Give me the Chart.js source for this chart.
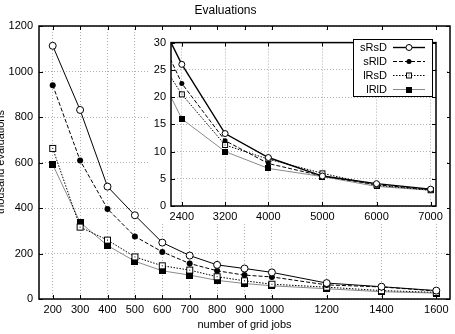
<!DOCTYPE html>
<html><head><meta charset="utf-8">
<script src="https://cdn.jsdelivr.net/npm/chart.js@4/dist/chart.umd.min.js"></script>
<style>
html,body{margin:0;padding:0;background:#fff;}
#wrap{position:relative;width:455px;height:334px;overflow:hidden;}
#main{position:absolute;left:0;top:0;}
#inset{position:absolute;left:150px;top:31px;background:#fff;}
</style></head><body>
<div id="wrap"><canvas id="main" width="455" height="334"></canvas><canvas id="inset" width="297" height="192"></canvas></div>
<script>
// ---- data ----
const seriesNames = ['sRsD', 'sRlD', 'lRsD', 'lRlD'];
const gridJobs = [200, 300, 400, 500, 600, 700, 800, 900, 1000, 1200, 1400, 1600];
const sRsD = [1113, 831, 494, 368, 248, 191, 150, 134, 117, 70, 54, 37];
const sRlD = [940, 609, 396, 275, 207, 156, 124, 105, 97, 62, 53, 35];
const lRsD = [662, 316, 259, 185, 146, 127, 98, 80, 65, 52, 37, 29];
const lRlD = [591, 337, 235, 166, 124, 105, 82, 68, 58, 45, 32, 26];
const xTickLabels = [200, 300, 400, 500, 600, 700, 800, 900, 1000, 1200, 1400, 1600];
const yTickLabels = [0, 200, 400, 600, 800, 1000, 1200];

const insetJobs = [2000, 2400, 3200, 4000, 5000, 6000, 7000];
const insetSRsD = [34, 26.0, 13.3, 8.9, 5.5, 4.1, 3.1];
const insetSRlD = [31, 22.5, 12.0, 7.8, 5.5, 3.9, 3.0];
const insetLRsD = [26.7, 20.5, 11.2, 8.6, 6.0, 3.8, 2.9];
const insetLRlD = [24, 16.0, 10.0, 6.9, 5.4, 3.6, 2.9];
const insetXTicks = [2400, 3200, 4000, 5000, 6000, 7000];
const insetYTicks = [0, 5, 10, 15, 20, 25, 30];

// ---- markers ----
function mk(w, draw){const c=document.createElement('canvas');c.width=w;c.height=w;draw(c.getContext('2d'));return c;}
const openSq = mk(9, g=>{g.fillStyle='#fff';g.fillRect(1,1,7,7);g.strokeStyle='#000';g.lineWidth=1;g.strokeRect(1.5,1.5,6,6);g.fillStyle='#000';g.fillRect(4,4,1,1);});
const openSqS = mk(8, g=>{g.fillStyle='#fff';g.fillRect(1,1,6,6);g.strokeStyle='#000';g.lineWidth=1;g.strokeRect(1.5,1.5,5,5);g.fillStyle='#000';g.fillRect(3.5,3.5,1,1);});
const fillSq = mk(7, g=>{g.fillStyle='#000';g.fillRect(0,0,7,7);});
const fillSqS = mk(6, g=>{g.fillStyle='#000';g.fillRect(0,0,6,6);});

const FONT = '"Liberation Sans", Arial, Helvetica, sans-serif';
const pts = (xs, ys) => xs.map((x, i) => ({x: x, y: ys[i]}));
const plain = v => String(v);

function styles(small){
  return [
    {borderColor:'#000', borderWidth: small?1.4:1, borderDash:[], pointStyle:'circle', pointRadius: small?3:3.5, pointBackgroundColor:'#fff', pointBorderColor:'#000', pointBorderWidth:1},
    {borderColor:'#000', borderWidth:1, borderDash:[4,2], pointStyle:'circle', pointRadius: small?2.5:3, pointBackgroundColor:'#000', pointBorderColor:'#000', pointBorderWidth:0},
    {borderColor:'#000', borderWidth:1, borderDash:[1.5,1.5], pointStyle: small?openSqS:openSq, pointRadius:4},
    {borderColor:'#8a8a8a', borderWidth:1, borderDash:[], pointStyle: small?fillSqS:fillSq, pointRadius:4}
  ];
}

function framePlugin(xTicks, yTicks){
  return {
    id:'frame',
    afterDraw(chart){
      const {ctx, chartArea:a, scales} = chart;
      ctx.save();
      ctx.strokeStyle='#000'; ctx.lineWidth=1; ctx.setLineDash([]);
      const L=4;
      ctx.beginPath();
      xTicks.forEach(v=>{const p=Math.round(scales.x.getPixelForValue(v))+0.5; ctx.moveTo(p,a.bottom); ctx.lineTo(p,a.bottom-L); ctx.moveTo(p,a.top); ctx.lineTo(p,a.top+L);});
      yTicks.forEach(v=>{const p=Math.round(scales.y.getPixelForValue(v))+0.5; ctx.moveTo(a.left,p); ctx.lineTo(a.left+L,p); ctx.moveTo(a.right,p); ctx.lineTo(a.right-L,p);});
      ctx.stroke();
      ctx.lineWidth=1.5;
      ctx.strokeRect(a.left, a.top, a.right-a.left, a.bottom-a.top);
      ctx.restore();
    }
  };
}

const yTitlePlugin = {
  id:'ytitle',
  afterDraw(chart){
    const ctx=chart.ctx; ctx.save();
    ctx.translate(4, 162); ctx.rotate(-Math.PI/2);
    ctx.font='11px '+FONT; ctx.fillStyle='#000'; ctx.textAlign='center'; ctx.textBaseline='alphabetic';
    ctx.fillText('thousand evaluations', 0, 0);
    ctx.restore();
  }
};

const gridOpts = {color:'#b0b0b0', lineWidth:1, drawTicks:false};
const borderOpts = {display:false, dash:[1,2]};

const mainSeries = [sRsD, sRlD, lRsD, lRlD];
const ms = styles(false);
new Chart(document.getElementById('main'), {
  type:'line',
  data:{datasets: mainSeries.map((s,i)=>Object.assign({label:seriesNames[i], data:pts(gridJobs,s), fill:false, tension:0}, ms[i]))},
  options:{
    responsive:false, animation:false, devicePixelRatio:1,
    layout:{padding:{left:0,right:4,top:0,bottom:0}},
    plugins:{
      legend:{display:false}, tooltip:{enabled:false},
      title:{display:true, text:'Evaluations', color:'#000', font:{family:FONT, size:12, weight:'normal'}, padding:{top:3, bottom:8.6}}
    },
    scales:{
      x:{type:'linear', min:150, max:1650,
         afterBuildTicks: s=>{ s.ticks = xTickLabels.map(v=>({value:v})); },
         afterFit: s=>{ s.height = 35; },
         ticks:{color:'#000', font:{family:FONT,size:11}, padding:4, maxRotation:0, autoSkip:false, callback:plain},
         grid:gridOpts, border:borderOpts,
         title:{display:true, text:'number of grid jobs', color:'#000', font:{family:FONT,size:11}, padding:{top:0,bottom:2}}},
      y:{type:'linear', min:0, max:1200,
         afterBuildTicks: s=>{ s.ticks = yTickLabels.map(v=>({value:v})); },
         afterFit: s=>{ s.width = 39; },
         ticks:{color:'#000', font:{family:FONT,size:11}, padding:6, callback:plain},
         grid:gridOpts, border:borderOpts}
    }
  },
  plugins:[framePlugin(xTickLabels, yTickLabels), yTitlePlugin]
});

const insetSeries = [insetSRsD, insetSRlD, insetLRsD, insetLRlD];
const is = styles(true);
const legendPlugin = {
  id:'insetLegend',
  afterDraw(chart){
    const ctx=chart.ctx; ctx.save();
    const bx=203.5, by=8.5, bw=79, bh=57;
    ctx.fillStyle='#fff'; ctx.fillRect(bx,by,bw,bh);
    ctx.strokeStyle='#000'; ctx.lineWidth=1; ctx.setLineDash([]); ctx.strokeRect(bx,by,bw,bh);
    ctx.font='11px '+FONT; ctx.textAlign='right'; ctx.textBaseline='middle';
    seriesNames.forEach((n,i)=>{
      const y=16.5+14*i, st=is[i];
      ctx.fillStyle='#000'; ctx.fillText(n, 237, y);
      ctx.save(); ctx.strokeStyle=st.borderColor; ctx.lineWidth=st.borderWidth; ctx.setLineDash(st.borderDash);
      ctx.beginPath(); ctx.moveTo(243,y); ctx.lineTo(275,y); ctx.stroke(); ctx.restore();
      const cx=259;
      if (typeof st.pointStyle === 'string'){
        ctx.beginPath(); ctx.arc(cx,y,st.pointRadius,0,Math.PI*2);
        ctx.fillStyle=st.pointBackgroundColor; ctx.fill();
        if (st.pointBorderWidth){ctx.strokeStyle='#000'; ctx.lineWidth=1; ctx.stroke();}
      } else {
        const im=st.pointStyle; ctx.drawImage(im, cx-im.width/2, y-im.height/2);
      }
    });
    ctx.restore();
  }
};
new Chart(document.getElementById('inset'), {
  type:'line',
  data:{datasets: insetSeries.map((s,i)=>Object.assign({label:seriesNames[i], data:pts(insetJobs,s), fill:false, tension:0}, is[i]))},
  options:{
    responsive:false, animation:false, devicePixelRatio:1,
    layout:{padding:{left:0,right:8,top:6,bottom:0}},
    plugins:{legend:{display:false}, tooltip:{enabled:false}, title:{display:false}},
    scales:{
      x:{type:'linear', min:2200, max:7100,
         afterBuildTicks: s=>{ s.ticks = insetXTicks.map(v=>({value:v})); },
         afterFit: s=>{ s.height = 17; },
         ticks:{color:'#000', font:{family:FONT,size:11}, padding:4, maxRotation:0, autoSkip:false, callback:plain},
         grid:gridOpts, border:borderOpts},
      y:{type:'linear', min:0, max:30,
         afterBuildTicks: s=>{ s.ticks = insetYTicks.map(v=>({value:v})); },
         afterFit: s=>{ s.width = 21; },
         ticks:{color:'#000', font:{family:FONT,size:11}, padding:5, callback:plain},
         grid:gridOpts, border:borderOpts}
    }
  },
  plugins:[framePlugin(insetXTicks, insetYTicks), legendPlugin]
});
</script>
</body></html>
